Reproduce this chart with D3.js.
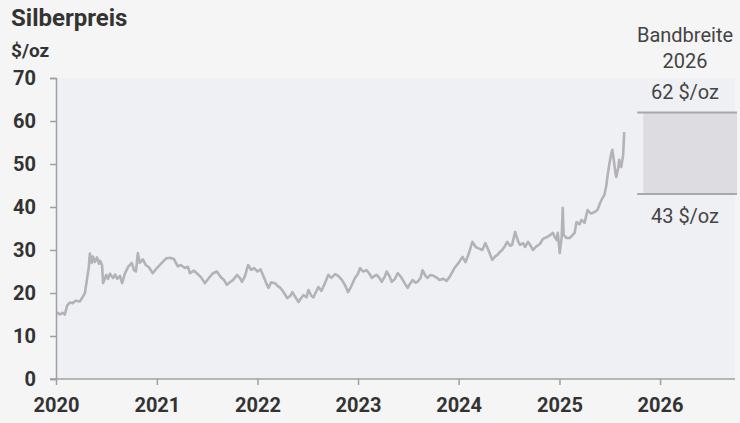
<!DOCTYPE html>
<html>
<head>
  <meta charset="utf-8">
  <title>Silberpreis</title>
  <style>
    body { margin: 0; background: #f5f5f5; }
    svg { display: block; font-family: Roboto, "Noto Sans", sans-serif; }
  </style>
</head>
<body>
  <script src="https://d3js.org/d3.v7.min.js"></script>
  <script>
    // silver price
    var dates = [
      '2020-01-05', '2020-01-15', '2020-01-25', '2020-02-02', '2020-02-10', '2020-02-20', '2020-03-01', '2020-03-12',
      '2020-03-27', '2020-04-08', '2020-04-15', '2020-04-22', '2020-04-29', '2020-05-03', '2020-05-10', '2020-05-14',
      '2020-05-21', '2020-05-29', '2020-06-05', '2020-06-09', '2020-06-16', '2020-06-20', '2020-07-01', '2020-07-08',
      '2020-07-15', '2020-07-26', '2020-08-03', '2020-08-10', '2020-08-20', '2020-08-28', '2020-09-07', '2020-09-18',
      '2020-10-02', '2020-10-10', '2020-10-17', '2020-10-24', '2020-10-31', '2020-11-11', '2020-11-22', '2020-12-03',
      '2020-12-17', '2021-01-01', '2021-01-19', '2021-02-03', '2021-02-17', '2021-03-04', '2021-03-18', '2021-03-29',
      '2021-04-13', '2021-04-24', '2021-05-01', '2021-05-16', '2021-05-26', '2021-06-10', '2021-06-24', '2021-07-09',
      '2021-07-24', '2021-08-07', '2021-08-22', '2021-09-02', '2021-09-12', '2021-09-23', '2021-10-04', '2021-10-19',
      '2021-10-30', '2021-11-06', '2021-11-17', '2021-11-28', '2021-12-09', '2021-12-20', '2022-01-01', '2022-01-12',
      '2022-01-22', '2022-02-02', '2022-02-10', '2022-02-20', '2022-03-07', '2022-03-18', '2022-03-25', '2022-04-05',
      '2022-04-19', '2022-04-30', '2022-05-08', '2022-05-19', '2022-05-30', '2022-06-06', '2022-06-17', '2022-06-28',
      '2022-07-05', '2022-07-16', '2022-07-23', '2022-08-10', '2022-08-21', '2022-09-01', '2022-09-15', '2022-09-26',
      '2022-10-10', '2022-10-21', '2022-11-04', '2022-11-15', '2022-11-26', '2022-12-07', '2022-12-21', '2023-01-01',
      '2023-01-08', '2023-01-19', '2023-02-02', '2023-02-13', '2023-02-20', '2023-03-03', '2023-03-10', '2023-03-21',
      '2023-03-28', '2023-04-08', '2023-04-15', '2023-04-26', '2023-05-03', '2023-05-14', '2023-05-25', '2023-06-05',
      '2023-06-19', '2023-06-30', '2023-07-07', '2023-07-18', '2023-07-29', '2023-08-05', '2023-08-16', '2023-08-23',
      '2023-09-03', '2023-09-10', '2023-09-21', '2023-10-02', '2023-10-13', '2023-10-24', '2023-11-07', '2023-11-18',
      '2023-11-29', '2023-12-17', '2024-01-01', '2024-01-15', '2024-01-26', '2024-02-06', '2024-02-20', '2024-03-02',
      '2024-03-09', '2024-03-20', '2024-03-27', '2024-04-07', '2024-04-18', '2024-05-02', '2024-05-13', '2024-05-20',
      '2024-05-31', '2024-06-07', '2024-06-18', '2024-06-25', '2024-07-06', '2024-07-13', '2024-07-24', '2024-08-04',
      '2024-08-11', '2024-08-22', '2024-08-29', '2024-09-09', '2024-09-20', '2024-09-27', '2024-10-08', '2024-10-22',
      '2024-11-02', '2024-11-16', '2024-11-27', '2024-12-08', '2024-12-15', '2024-12-22', '2024-12-26', '2025-01-02',
      '2025-01-09', '2025-01-13', '2025-01-16', '2025-01-27', '2025-02-07', '2025-02-18', '2025-02-25', '2025-03-04',
      '2025-03-15', '2025-03-22', '2025-04-02', '2025-04-13', '2025-04-24', '2025-05-01', '2025-05-12', '2025-05-19',
      '2025-05-26', '2025-06-02', '2025-06-13', '2025-06-20', '2025-06-24', '2025-07-01', '2025-07-08', '2025-07-12',
      '2025-07-19', '2025-07-23', '2025-07-26', '2025-08-02', '2025-08-06', '2025-08-09', '2025-08-13', '2025-08-20',
      '2025-08-24'
    ];
    var prices = [
      15.5, 15.0, 15.4, 15.0, 17.0, 17.8, 17.6, 18.2,
      18.0, 19.2, 20.0, 23.0, 26.0, 29.2, 27.0, 28.5,
      27.2, 28.3, 26.8, 27.5, 26.5, 22.3, 24.2, 23.3,
      24.5, 23.5, 24.3, 23.3, 24.0, 22.3, 24.5, 26.0,
      27.0, 25.3, 25.0, 29.3, 27.0, 27.8, 26.5, 26.0,
      24.6, 25.8, 27.0, 28.0, 28.2, 27.9, 26.2, 26.5,
      25.8, 26.1, 24.6, 25.2, 24.6, 23.7, 22.3, 23.5,
      24.6, 25.0, 23.6, 23.0, 21.9, 22.5, 23.0, 24.2,
      23.4, 22.6, 24.0, 26.5, 25.4, 25.8, 25.0, 25.5,
      24.0, 22.3, 21.2, 22.5, 22.2, 21.5, 21.2, 20.3,
      18.8, 19.3, 20.2, 19.0, 17.9, 18.6, 19.5, 19.0,
      20.7, 19.3, 19.0, 21.4, 20.5, 22.0, 24.2, 23.5,
      24.4, 24.0, 23.0, 21.8, 20.2, 21.5, 23.5, 24.5,
      25.8, 25.0, 25.3, 24.3, 23.5, 24.0, 24.2, 23.4,
      22.6, 23.8, 25.0, 23.8, 22.6, 23.2, 24.6, 23.8,
      22.3, 21.2, 22.0, 23.0, 22.4, 22.6, 23.5, 25.3,
      24.0, 23.5, 24.2, 24.0, 23.6, 23.0, 23.3, 22.8,
      23.7, 25.8, 27.0, 28.4, 27.2, 29.0, 31.9, 30.8,
      30.5, 30.2, 30.0, 31.6, 30.0, 27.7, 28.5, 28.8,
      29.6, 30.0, 31.0, 31.9, 31.0, 31.2, 34.2, 32.0,
      31.2, 31.6, 30.7, 31.9, 30.8, 30.0, 30.8, 31.4,
      32.6, 33.0, 33.4, 34.0, 33.0, 32.3, 34.0, 29.3,
      33.0, 39.8, 33.5, 32.8, 32.8, 33.5, 34.0, 36.5,
      36.0, 37.0, 36.3, 39.3, 38.5, 38.6, 39.0, 39.3,
      40.5, 41.6, 42.8, 45.0, 47.0, 50.0, 52.5, 53.3,
      50.0, 47.9, 47.0, 49.0, 51.0, 49.5, 49.3, 52.0,
      57.4
    ];
    var yTicks = [0, 10, 20, 30, 40, 50, 60, 70];
    var xTickYears = [2020, 2021, 2022, 2023, 2024, 2025, 2026];
    var rangeLow = 43;
    var rangeHigh = 62;
    var rangeLabel = ['Bandbreite', '2026'];

    var W = 740, H = 423;
    var mLeft = 56, mRight = 735, mTop = 78, mBottom = 379;

    var parse = d3.timeParse('%Y-%m-%d');
    var series = dates.map(function(d, i) { return { date: parse(d), value: prices[i] }; });

    var x = d3.scaleTime()
      .domain([new Date(2020, 0, 1), new Date(2026, 8, 30)])
      .range([mLeft, mRight]);
    var y = d3.scaleLinear().domain([0, 70]).range([mBottom, mTop]);

    var svg = d3.select('body').append('svg').attr('width', W).attr('height', H);

    svg.append('rect')
      .attr('x', mLeft).attr('y', mTop)
      .attr('width', mRight - mLeft).attr('height', mBottom - mTop)
      .attr('fill', '#eff0f4');

    // band 2026
    var bandX0 = x(new Date(2025, 10, 1)), bandX1 = 737, lineX0 = x(new Date(2025, 9, 10));
    svg.append('rect')
      .attr('x', bandX0).attr('y', y(rangeHigh))
      .attr('width', bandX1 - bandX0).attr('height', y(rangeLow) - y(rangeHigh))
      .attr('fill', '#dcdce1');
    svg.selectAll('line.band').data([rangeLow, rangeHigh]).enter().append('line')
      .attr('class', 'band')
      .attr('x1', lineX0).attr('x2', bandX1)
      .attr('y1', function(d) { return y(d); }).attr('y2', function(d) { return y(d); })
      .attr('stroke', '#a8a8ac').attr('stroke-width', 2);

    var cx = 685;
    svg.selectAll('text.rl').data(rangeLabel).enter().append('text')
      .attr('class', 'rl')
      .attr('x', cx).attr('y', function(d, i) { return 42 + i * 26; })
      .attr('text-anchor', 'middle').attr('font-size', 20).attr('fill', '#444')
      .text(function(d) { return d; });
    svg.append('text').attr('x', cx).attr('y', y(rangeHigh) - 13)
      .attr('text-anchor', 'middle').attr('font-size', 20).attr('fill', '#444')
      .text(rangeHigh + ' $/oz');
    svg.append('text').attr('x', cx).attr('y', y(rangeLow) + 29)
      .attr('text-anchor', 'middle').attr('font-size', 20).attr('fill', '#444')
      .text(rangeLow + ' $/oz');

    // price line
    var line = d3.line()
      .x(function(d) { return x(d.date); })
      .y(function(d) { return y(d.value); });
    svg.append('path').datum(series)
      .attr('d', line)
      .attr('fill', 'none').attr('stroke', '#b3b3b7').attr('stroke-width', 2.6)
      .attr('stroke-linejoin', 'round');

    // axes
    var yAxis = svg.append('g').attr('transform', 'translate(' + mLeft + ',0)')
      .call(d3.axisLeft(y).tickValues(yTicks).tickSize(6).tickPadding(14));
    var xAxis = svg.append('g').attr('transform', 'translate(0,' + mBottom + ')')
      .call(d3.axisBottom(x)
        .tickValues(xTickYears.map(function(v) { return new Date(v, 0, 1); }))
        .tickFormat(d3.timeFormat('%Y')).tickSize(6).tickPadding(13));
    xAxis.select('.domain').attr('d', 'M' + (mLeft - 6) + ',0H' + mRight);
    [yAxis, xAxis].forEach(function(g) {
      g.selectAll('.domain, line').attr('stroke', '#a0a0a0').attr('stroke-width', 1.5);
      g.selectAll('text').attr('font-size', 20).attr('font-weight', 'bold').attr('fill', '#333')
        .attr('font-family', 'Roboto, sans-serif');
    });

    svg.append('text').attr('x', 11).attr('y', 26)
      .attr('font-size', 24).attr('font-weight', 'bold').attr('fill', '#333')
      .text('Silberpreis');
    svg.append('text').attr('x', 11).attr('y', 57)
      .attr('font-size', 19).attr('font-weight', 'bold').attr('fill', '#333')
      .text('$/oz');
  </script>
</body>
</html>
